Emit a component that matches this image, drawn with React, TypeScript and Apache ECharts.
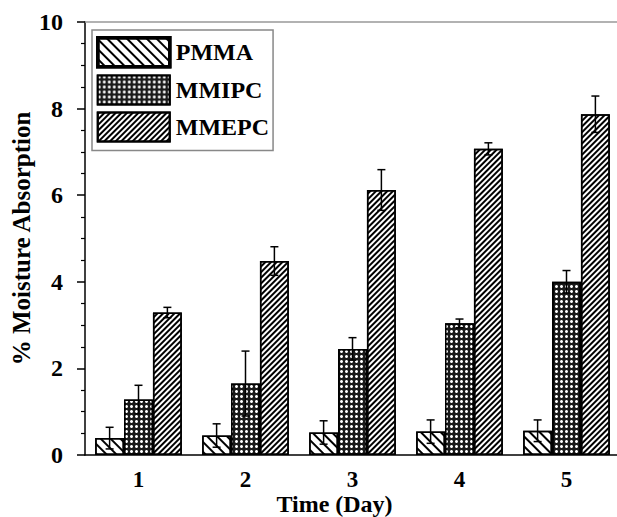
import React, { useEffect, useRef } from "react";
import * as echarts from "echarts";

const categories = ["1", "2", "3", "4", "5"];
const seriesNames = ["PMMA", "MMIPC", "MMEPC"];
const pmma = [0.39, 0.45, 0.52, 0.54, 0.56];
const pmmaErr = [0.25, 0.27, 0.27, 0.27, 0.25];
const mmipc = [1.28, 1.65, 2.45, 3.04, 4.0];
const mmipcErr = [0.33, 0.75, 0.26, 0.1, 0.26];
const mmepc = [3.29, 4.48, 6.12, 7.07, 7.87];
const mmepcErr = [0.12, 0.33, 0.47, 0.14, 0.42];
const yTicks = [0, 2, 4, 6, 8, 10];

const FONT = "Liberation Serif";
const BAR_FRAC = 0.27;

const fills = ["#fff", "#1a1a1a", "#fff"];
const decals: any[] = [
  {
    symbol: "rect",
    symbolSize: 1,
    dashArrayX: [1, 0],
    dashArrayY: [1.3, 4.4],
    rotation: Math.PI / 4,
    color: "#000",
  },
  {
    symbol: "circle",
    symbolSize: 1,
    dashArrayX: [2.2, 1.6],
    dashArrayY: [2.2, 1.6],
    rotation: 0,
    color: "#fff",
  },
  {
    symbol: "rect",
    symbolSize: 1,
    dashArrayX: [1, 0],
    dashArrayY: [1.1, 1.5],
    rotation: -Math.PI / 4,
    color: "#000",
  },
];

function errorSeries(values: number[], errs: number[], idx: number) {
  return {
    type: "custom",
    name: seriesNames[idx] + " error",
    z: 10,
    silent: true,
    encode: { x: 0, y: 1 },
    data: values.map((v, i) => [i, v, errs[i]]),
    renderItem: (params: any, api: any) => {
      const ci = api.value(0);
      const v = api.value(1);
      const e = api.value(2);
      const band = api.size([1, 0])[0];
      const off = (idx - 1) * band * BAR_FRAC;
      const top = api.coord([ci, v + e]);
      const bot = api.coord([ci, v - e]);
      const x = top[0] + off;
      const cap = 4;
      const st = { stroke: "#000", lineWidth: 1.5 };
      return {
        type: "group",
        children: [
          { type: "line", shape: { x1: x, y1: top[1], x2: x, y2: bot[1] }, style: st },
          { type: "line", shape: { x1: x - cap, y1: top[1], x2: x + cap, y2: top[1] }, style: st },
          { type: "line", shape: { x1: x - cap, y1: bot[1], x2: x + cap, y2: bot[1] }, style: st },
        ],
      };
    },
  };
}

export default function App() {
  const ref = useRef<HTMLDivElement>(null);
  useEffect(() => {
    if (!ref.current) return;
    const chart = echarts.init(ref.current, null, { renderer: "svg" });
    const values = [pmma, mmipc, mmepc];
    const errs = [pmmaErr, mmipcErr, mmepcErr];
    const barSeries = values.map((vals, i) => ({
      type: "bar",
      name: seriesNames[i],
      data: vals,
      barWidth: BAR_FRAC * 100 + "%",
      barGap: "0%",
      itemStyle: {
        color: fills[i],
        borderColor: "#000",
        borderWidth: 1.5,
        decal: decals[i],
      },
    }));
    chart.setOption({
      animation: false,
      backgroundColor: "#fff",
      grid: { left: 85, top: 22, width: 535, height: 433, outerBoundsMode: "none", containLabel: false },
      legend: {
        orient: "vertical",
        left: 92,
        top: 30,
        padding: [6, 4, 8, 4],
        itemWidth: 72,
        itemHeight: 29,
        itemGap: 6,
        icon: "rect",
        borderColor: "#888",
        borderWidth: 1.5,
        borderRadius: 0,
        data: [
          { name: "PMMA", itemStyle: { borderWidth: 3.5 } },
          { name: "MMIPC" },
          { name: "MMEPC" },
        ],
        textStyle: {
          fontFamily: FONT,
          fontWeight: "bold",
          fontSize: 24,
          color: "#000",
          padding: [0, 0, 0, 1],
        },
      },
      xAxis: [
        {
          type: "category",
          data: categories,
          name: "Time (Day)",
          nameLocation: "middle",
          nameGap: 37,
          nameMoveOverlap: false,
          nameTextStyle: {
            fontFamily: FONT,
            fontWeight: "bold",
            fontSize: 24,
            color: "#000",
            padding: [0, 36, 0, 0],
          },
          axisLine: { lineStyle: { color: "#000", width: 1.5 } },
          axisTick: { alignWithLabel: true, length: 8, lineStyle: { color: "#000", width: 1.5 } },
          axisLabel: {
            fontFamily: FONT,
            fontWeight: "bold",
            fontSize: 23,
            color: "#000",
            margin: 13,
          },
        },
        {
          type: "category",
          data: categories,
          position: "top",
          axisLine: { lineStyle: { color: "#999", width: 1.5 } },
          axisTick: { show: false },
          axisLabel: { show: false },
        },
      ],
      yAxis: {
        type: "value",
        min: yTicks[0],
        max: yTicks[yTicks.length - 1],
        interval: 2,
        name: "% Moisture Absorption",
        nameLocation: "middle",
        nameGap: 51,
        nameMoveOverlap: false,
        nameRotate: 90,
        nameTextStyle: {
          fontFamily: FONT,
          fontWeight: "bold",
          fontSize: 25,
          color: "#000",
        },
        axisLine: { show: true, lineStyle: { color: "#000", width: 1.5 } },
        axisTick: { show: true, length: 8, lineStyle: { color: "#000", width: 1.5 } },
        minorTick: { show: true, splitNumber: 4, length: 4, lineStyle: { color: "#000", width: 1.2 } },
        splitLine: { show: false },
        axisLabel: {
          fontFamily: FONT,
          fontWeight: "bold",
          fontSize: 24,
          color: "#000",
          margin: 22,
        },
      },
      series: [
        ...barSeries,
        ...values.map((v, i) => errorSeries(v, errs[i], i)),
      ],
    });
    return () => chart.dispose();
  }, []);
  return (
    <div
      ref={ref}
      style={{ position: "absolute", left: 0, top: 0, width: 617, height: 517 }}
    />
  );
}
